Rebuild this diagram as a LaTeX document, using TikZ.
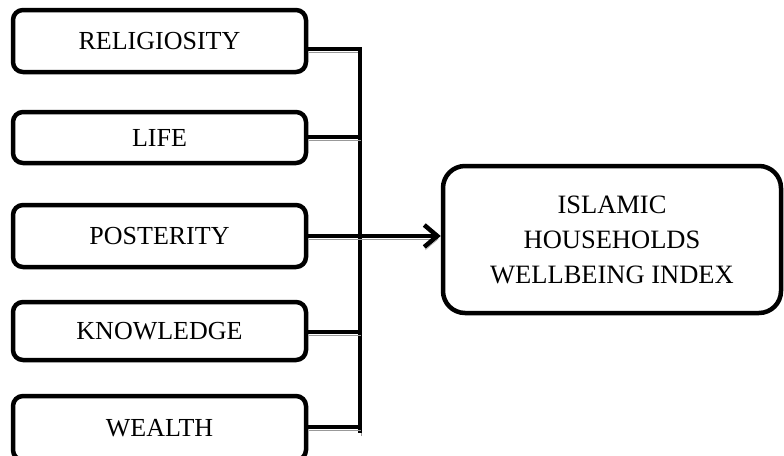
\documentclass[tikz,border=0pt]{standalone}
\usepackage{fontspec}
\setmainfont{Liberation Serif}
\usetikzlibrary{arrows.meta}
\begin{document}
\begin{tikzpicture}[x=1pt,y=-1pt,
  box/.style={draw=black,line width=4.5pt,rounded corners=10pt,fill=white,inner sep=0pt,
    minimum width=293pt,font=\fontsize{26}{30}\selectfont},
  bigbox/.style={draw=black,line width=4.5pt,rounded corners=22pt,fill=white,inner sep=0pt,
    minimum width=338pt,minimum height=147pt,align=center,font=\fontsize{26.5}{35}\selectfont},
  conn/.style={line width=4.5pt,draw=black,line join=miter,
    preaction={draw=black!40,transform canvas={shift={(1pt,-3pt)}}}}]
\useasboundingbox (0,0) rectangle (784,455);
% boxes
\node[box,minimum height=62pt] (rel) at (159.5,41) {RELIGIOSITY};
\node[box,minimum height=51pt] (life) at (159.5,137.5) {\raisebox{-4pt}{LIFE}};
\node[box,minimum height=62pt] (post) at (159.5,236) {POSTERITY};
\node[box,minimum height=58pt] (know) at (159.5,331) {KNOWLEDGE};
\node[box,minimum height=64pt] (wea) at (159.5,428) {WEALTH};
\node[bigbox] (rw) at (612,239.5) {ISLAMIC\\HOUSEHOLDS\\WELLBEING INDEX};
% bus coordinates
\coordinate (b1) at (360,49);
\coordinate (b2) at (360,137);
\coordinate (b4) at (360,332);
\coordinate (b5) at (360,427);
\coordinate (bbot) at (360,433);
% connectors
\draw[conn] (rel.east |- b1) -- (b1) -- (bbot);
\draw[conn] (life.east |- b2) -- (b2);
\draw[conn] (know.east |- b4) -- (b4);
\draw[conn] (wea.east |- b5) -- (b5);
\draw[conn,-{Straight Barb[length=13pt,width=22pt]}] (post.east) -- (post.east -| rw.west);
\end{tikzpicture}
\end{document}
